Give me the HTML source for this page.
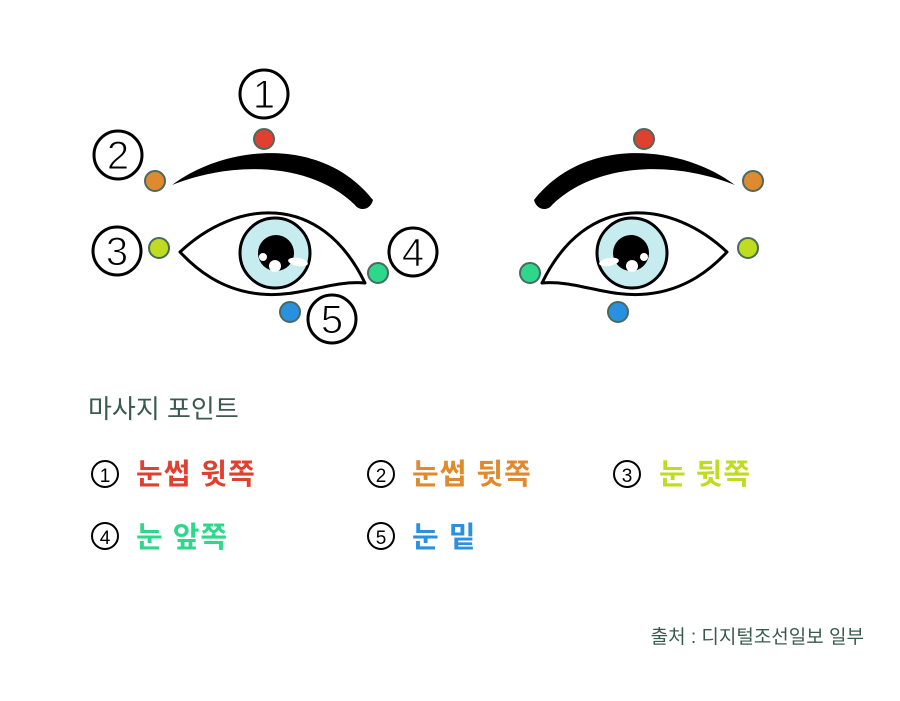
<!DOCTYPE html>
<html><head><meta charset="utf-8"><style>
html,body{margin:0;padding:0;background:#fff}
svg{display:block}
text{font-family:"Liberation Sans","Noto Sans CJK KR",sans-serif}
</style></head><body>
<svg width="900" height="701" viewBox="0 0 900 701" xmlns="http://www.w3.org/2000/svg">
<defs>
<g id="eye">
  <path d="M172,185 C225,145 322,135 373,200 C370,211 359,211 355,205 C312,163 235,160 172,185 Z" fill="#000"/>
  <path d="M180,252 C235,200 320,190 365,283 C330,280 300,298 260,294 C220,290 195,268 180,252 Z" fill="#fff" stroke="#000" stroke-width="3" stroke-linejoin="round"/>
  <circle cx="275" cy="253" r="35" fill="#c6ecef" stroke="#000" stroke-width="3"/>
  <circle cx="276" cy="253" r="18" fill="#000"/>
  <circle cx="263" cy="257" r="4" fill="#fff"/>
  <circle cx="275" cy="266" r="6" fill="#fff"/>
  <ellipse cx="298" cy="262" rx="10" ry="4" fill="#fff" transform="rotate(10 298 262)"/>
</g>
</defs>
<use href="#eye"/>
<use href="#eye" transform="translate(907,0) scale(-1,1)"/>
<g stroke="#4a6a60" stroke-width="2">
<circle cx="264" cy="139" r="10" fill="#e04030"/>
<circle cx="155" cy="181" r="10" fill="#e08a30"/>
<circle cx="159" cy="248" r="10" fill="#c0dc20"/>
<circle cx="378" cy="273" r="10" fill="#2ed88a"/>
<circle cx="290" cy="312" r="10" fill="#2a90e0"/>
<circle cx="644" cy="139" r="10" fill="#e04030"/>
<circle cx="753" cy="181" r="10" fill="#e08a30"/>
<circle cx="748" cy="248" r="10" fill="#c0dc20"/>
<circle cx="530" cy="273" r="10" fill="#2ed88a"/>
<circle cx="618" cy="312" r="10" fill="#2a90e0"/>
</g>
<g fill="#fff" stroke="#000" stroke-width="3">
<circle cx="264" cy="94" r="24"/>
<circle cx="118" cy="155" r="24"/>
<circle cx="117" cy="251" r="24"/>
<circle cx="413" cy="252" r="24"/>
<circle cx="332" cy="319" r="24"/>
</g>
<g font-size="40" text-anchor="middle" fill="#000" stroke="#fff" stroke-width="1">
<text x="264" y="108">1</text>
<text x="118" y="169">2</text>
<text x="117" y="265">3</text>
<text x="413" y="266">4</text>
<text x="332" y="333">5</text>
</g>
<text x="88" y="418" font-size="26" fill="#3a5a50">마사지 포인트</text>
<g fill="#fff" stroke="#000" stroke-width="2">
<circle cx="105" cy="474" r="13"/>
<circle cx="381" cy="474" r="13"/>
<circle cx="627" cy="474" r="13"/>
<circle cx="105" cy="536" r="13"/>
<circle cx="381" cy="536" r="13"/>
</g>
<g font-size="19" text-anchor="middle" fill="#000">
<text x="105" y="482">1</text>
<text x="381" y="482">2</text>
<text x="627" y="482">3</text>
<text x="105" y="544">4</text>
<text x="381" y="544">5</text>
</g>
<g font-size="29" font-weight="bold" letter-spacing="1">
<text x="136" y="484" fill="#e04030">눈썹 윗쪽</text>
<text x="412" y="484" fill="#e08a30">눈썹 뒷쪽</text>
<text x="659" y="484" fill="#c0dc20">눈 뒷쪽</text>
<text x="136" y="547" fill="#2ed88a">눈 앞쪽</text>
<text x="412" y="547" fill="#2a90e0">눈 밑</text>
</g>
<text x="864" y="643" font-size="19" fill="#3a5a50" text-anchor="end">출처 : 디지털조선일보 일부</text>
</svg>
</body></html>
